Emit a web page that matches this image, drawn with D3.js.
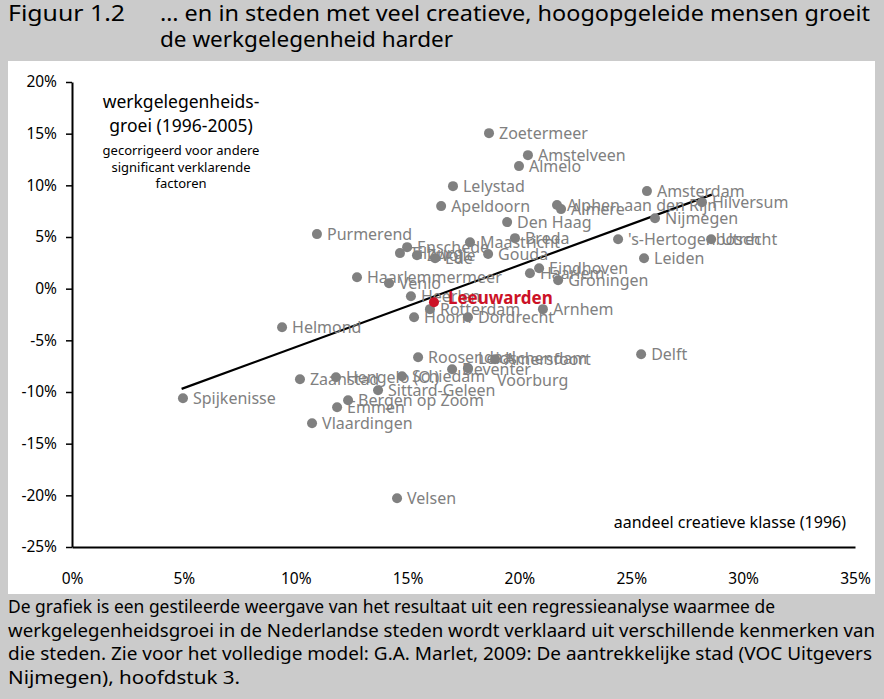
<!DOCTYPE html>
<html><head><meta charset="utf-8">
<script src="https://cdn.jsdelivr.net/npm/d3@7"></script>
<style>
html,body{margin:0;padding:0;background:#cbcbcb;}
svg{display:block;}
text{font-family:"Noto Sans","Open Sans",sans-serif;}
</style></head>
<body>
<svg id="chart" width="884" height="699"></svg>
<script>
// ---- data ----
const cities = ["Zoetermeer","Amstelveen","Almelo","Lelystad","Apeldoorn","Alphen aan den Rijn","Almere","Den Haag","Amsterdam","Hilversum","Nijmegen","'s-Hertogenbosch","Utrecht","Leiden","Eindhoven","Haarlem","Groningen","Purmerend","Maastricht","Breda","Gouda","Enschede","Tilburg","Zwolle","Ede","Haarlemmermeer","Venlo","Heerlen","Leeuwarden","Rotterdam","Hoorn","Dordrecht","Arnhem","Helmond","Delft","Roosendaal","Amersfoort","Leidschendam-Voorburg","Deventer","Zaanstad","Hengelo (O.)","Schiedam","Sittard-Geleen","Bergen op Zoom","Emmen","Vlaardingen","Spijkenisse","Velsen"];
const creative = [18.64,20.38,19.98,17.03,16.50,21.68,21.86,19.45,25.70,28.16,26.06,24.41,28.57,25.57,20.88,20.47,21.73,10.95,17.79,19.80,18.60,14.98,14.66,15.42,16.23,12.74,14.17,15.15,16.18,16.00,15.29,17.70,21.05,9.39,25.44,15.47,18.91,17.70,16.99,10.19,11.80,14.75,13.68,12.34,11.85,10.73,4.96,14.53];
const growth = [15.05,12.92,11.86,9.92,7.99,8.09,7.70,6.44,9.44,8.37,6.82,4.79,4.79,2.95,1.98,1.50,0.82,5.28,4.50,4.89,3.36,4.02,3.44,3.24,2.95,1.11,0.53,-0.73,-1.31,-1.98,-2.76,-2.76,-1.98,-3.73,-6.34,-6.63,-6.82,-7.70,-7.79,-8.76,-8.57,-8.47,-9.83,-10.79,-11.47,-13.02,-10.60,-20.28];
const highlight = "Leeuwarden";
const trendX = [4.9, 28.6];
const trendY = [-9.7, 9.1];
const xTicks = [0,5,10,15,20,25,30,35];
const yTicks = [20,15,10,5,0,-5,-10,-15,-20,-25];
const titleLabel = "Figuur 1.2";
const titleLines = ["… en in steden met veel creatieve, hoogopgeleide mensen groeit","de werkgelegenheid harder"];
const yTitle = ["werkgelegenheids-","groei (1996-2005)"];
const ySub = ["gecorrigeerd voor andere","significant verklarende","factoren"];
const xTitle = "aandeel creatieve klasse (1996)";
const footer = ["De grafiek is een gestileerde weergave van het resultaat uit een regressieanalyse waarmee de","werkgelegenheidsgroei in de Nederlandse steden wordt verklaard uit verschillende kenmerken van","die steden. Zie voor het volledige model: G.A. Marlet, 2009: De aantrekkelijke stad (VOC Uitgevers","Nijmegen), hoofdstuk 3."];

// ---- layout ----
const svg = d3.select("#chart");
const grey = "#808080", red = "#cc1126";

svg.append("rect").attr("x",8).attr("y",61).attr("width",867).attr("height",533).attr("fill","#fff");

// title
svg.append("text").attr("x",8).attr("y",21).attr("font-size",21).attr("textLength",117).attr("lengthAdjust","spacingAndGlyphs").text(titleLabel);
const tLens=[710,293];
titleLines.forEach((t,i)=>svg.append("text").attr("x",160).attr("y",21+26*i).attr("font-size",21)
  .attr("textLength",tLens[i]).attr("lengthAdjust","spacingAndGlyphs").text(t));

// footer
const fLens=[767,867,864,232];
footer.forEach((t,i)=>svg.append("text").attr("x",8).attr("y",613+23.5*i).attr("font-size",18)
  .attr("textLength",fLens[i]).attr("lengthAdjust","spacingAndGlyphs").text(t));

const x = d3.scaleLinear().domain([0,35]).range([72,855]);
const y = d3.scaleLinear().domain([-25,20]).range([547,82]);

const xa = svg.append("g").attr("transform","translate(0,547)")
  .call(d3.axisBottom(x).tickValues(xTicks).tickFormat(d=>d+"%").tickSize(6).tickPadding(20).tickSizeOuter(0));
const ya = svg.append("g").attr("transform","translate(72,0)")
  .call(d3.axisLeft(y).tickValues(yTicks).tickFormat(d=>d+"%").tickSize(6).tickPadding(9).tickSizeOuter(0));
[xa,ya].forEach(g=>{
  g.select(".domain").attr("stroke","#000").attr("stroke-width",2);
  g.selectAll(".tick line").attr("stroke","#000").attr("stroke-width",1.5);
  g.selectAll(".tick text").attr("font-size",15.5).attr("fill","#000").attr("font-family","'Noto Sans',sans-serif");
});
xa.selectAll(".tick line").remove();

// axis titles
yTitle.forEach((t,i)=>svg.append("text").attr("x",181).attr("y",108+24*i).attr("text-anchor","middle").attr("font-size",17.5).text(t));
ySub.forEach((t,i)=>svg.append("text").attr("x",181).attr("y",155+16.5*i).attr("text-anchor","middle").attr("font-size",13).text(t));
svg.append("text").attr("x",846).attr("y",528).attr("text-anchor","end").attr("font-size",16).text(xTitle);

// trend line
svg.append("line").attr("x1",x(trendX[0])).attr("y1",y(trendY[0])).attr("x2",x(trendX[1])).attr("y2",y(trendY[1]))
  .attr("stroke","#000").attr("stroke-width",2.2);

const pts = cities.map((c,i)=>({c, x:creative[i], y:growth[i]}));
// label placement tweaks (layout only)
const nudge = {"Leidschendam-Voorburg":[[10,-10,"Leidschendam"],[29,12,"Voorburg"]]};

const g = svg.append("g");
pts.filter(d=>d.c!==highlight).forEach(d=>{
  g.append("circle").attr("cx",x(d.x)).attr("cy",y(d.y)).attr("r",5).attr("fill",grey);
});
pts.filter(d=>d.c!==highlight).forEach(d=>{
  const parts = nudge[d.c] || [[10,0,d.c]];
  parts.forEach(p=>g.append("text").attr("x",x(d.x)+p[0]).attr("y",y(d.y)+p[1]).attr("dy","0.36em")
    .attr("font-size",16).attr("fill",grey).text(p[2]));
});
pts.filter(d=>d.c===highlight).forEach(d=>{
  g.append("circle").attr("cx",x(d.x)).attr("cy",y(d.y)).attr("r",5).attr("fill",red);
  g.append("text").attr("x",x(d.x)+14).attr("y",y(d.y)-4).attr("dy","0.36em").attr("font-size",17)
    .attr("font-weight","bold").attr("fill",red).text(d.c);
});
</script>
</body></html>
